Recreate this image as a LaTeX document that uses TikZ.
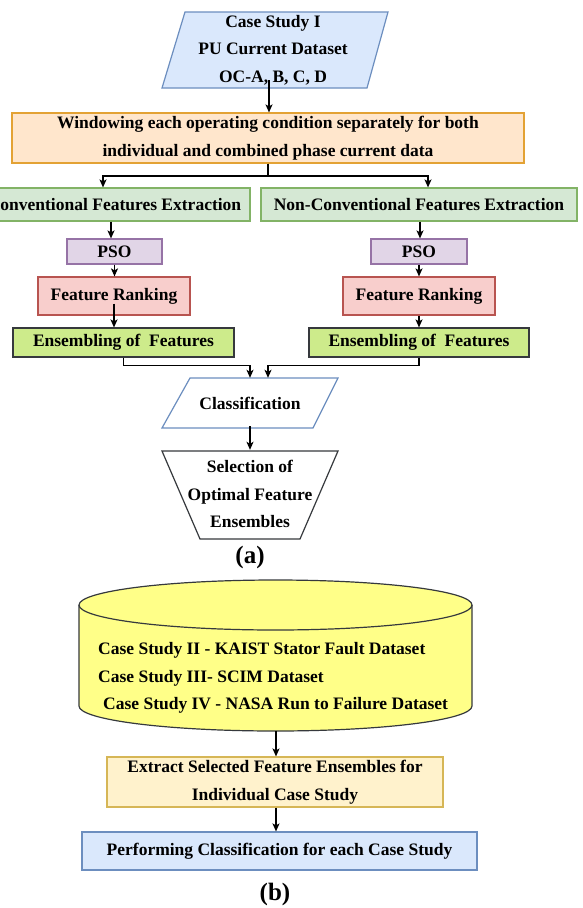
\documentclass[tikz,border=0pt]{standalone}
\usepackage{fontspec}
\setmainfont{Liberation Serif}
\usetikzlibrary{arrows.meta}
\definecolor{blueF}{HTML}{DAE8FC}
\definecolor{blueD}{HTML}{6C8EBF}
\definecolor{orangeF}{HTML}{FFE6CC}
\definecolor{orangeD}{HTML}{E3A234}
\definecolor{greenF}{HTML}{D5E8D4}
\definecolor{greenD}{HTML}{82B366}
\definecolor{purpF}{HTML}{E1D5E7}
\definecolor{purpD}{HTML}{9673A6}
\definecolor{redF}{HTML}{F8CECC}
\definecolor{redD}{HTML}{B85450}
\definecolor{ensF}{HTML}{CDEB8B}
\definecolor{darkD}{HTML}{36393D}
\definecolor{cylF}{HTML}{FFFF88}
\definecolor{yelF}{HTML}{FFF2CC}
\definecolor{yelD}{HTML}{D6B656}
\tikzset{
  lbl/.style={font=\fontsize{17.5}{27.5}\selectfont\bfseries, align=center, inner sep=0pt, text=black},
  rbox/.style={lbl, draw, line width=1.2pt, rectangle},
  arr/.style={draw=black, line width=1.2pt, -{Stealth[length=8pt,width=7pt,inset=2pt]}},
  ln/.style={draw=black, line width=1.2pt},
  tag/.style={font=\fontsize{25}{30}\selectfont\bfseries, inner sep=0pt}
}
\begin{document}
\begin{tikzpicture}[x=1pt,y=-1pt]
\useasboundingbox[fill=white] (0,0) rectangle (583,908);

% ---- (a) ----
\filldraw[fill=blueF, draw=blueD, line width=1.2pt] (185,12) -- (388,12) -- (367,88) -- (162,88) -- cycle;
\node[lbl, minimum width=226pt, minimum height=76pt] (p1) at (273,50) {Case Study I\\PU Current Dataset\\OC-A, B, C, D};
\coordinate (p1out) at (269,80);

\node[rbox, fill=orangeF, draw=orangeD, minimum width=512pt, minimum height=50pt] (win) at (268,138)
  {Windowing each operating condition separately for both\\individual and combined phase current data};

\node[rbox, fill=greenF, draw=greenD, minimum width=271pt, minimum height=33pt] (conv) at (114.5,204.5) {Conventional Features Extraction};
\node[rbox, fill=greenF, draw=greenD, minimum width=316pt, minimum height=33pt] (nconv) at (419,204.5) {Non-Conventional Features Extraction};

\node[rbox, fill=purpF, draw=purpD, minimum width=95pt, minimum height=25pt] (psoL) at (114.5,251.5) {PSO};
\node[rbox, fill=purpF, draw=purpD, minimum width=96pt, minimum height=25pt] (psoR) at (419,251.5) {PSO};

\node[rbox, fill=redF, draw=redD, minimum width=152pt, minimum height=38pt] (frL) at (114,296) {Feature Ranking};
\node[rbox, fill=redF, draw=redD, minimum width=152pt, minimum height=38pt] (frR) at (419,296) {Feature Ranking};

\node[rbox, fill=ensF, draw=darkD, minimum width=221pt, minimum height=29pt] (ensL) at (123.5,342.5) {Ensembling of~ Features};
\node[rbox, fill=ensF, draw=darkD, minimum width=220pt, minimum height=29pt] (ensR) at (419,342.5) {Ensembling of~ Features};

\draw[blueD, line width=1.2pt] (190,378) -- (338,378) -- (313,428) -- (162,428) -- cycle;
\node[lbl, minimum width=176pt, minimum height=50pt] (cls) at (250,403) {Classification};

\draw[darkD, line width=1.2pt] (162,451) -- (338,451) -- (300,539) -- (200,539) -- cycle;
\node[lbl, minimum width=176pt, minimum height=88pt] (sel) at (250,494) {Selection of\\Optimal Feature\\Ensembles};

\node[tag] (taga) at (250,557) {(a)};

% connectors (a)
\draw[arr] (p1out) -- (p1out |- win.north);
\coordinate (brL) at (103,176);
\coordinate (brR) at (428,176);
\draw[arr] (win.south) |- (brL) -- (brL |- conv.north);
\draw[arr] (win.south) |- (brR) -- (brR |- nconv.north);
\draw[arr] ([xshift=-3.5pt]conv.south -| psoL.north) -- ([xshift=-3.5pt]psoL.north);
\draw[arr] ([xshift=1pt]nconv.south -| psoR.north) -- ([xshift=1pt]psoR.north);
\draw[arr] (psoL.south) -- (psoL.south |- frL.north);
\draw[arr] (psoR.south) -- (psoR.south |- frR.north);
\draw[arr] ([yshift=12pt]frL.south) -- (frL.south |- ensL.north);
\draw[arr] (frR.south) -- (frR.south |- ensR.north);
\draw[arr] (ensL.south) -- ++(0,8) -| (cls.north);
\draw[arr] (ensR.south) -- ++(0,8) -| ([xshift=18pt]cls.north);
\draw[arr] ([yshift=2pt]cls.south) -- (sel.north);

% ---- (b) ----
\node[lbl, minimum width=393pt, minimum height=151pt] (cyl) at (275.5,655.5) {};
\filldraw[fill=cylF, draw=darkD, line width=1.2pt] (79,605) -- (79,706)
  arc[start angle=180, end angle=360, x radius=196.5pt, y radius=25pt] -- (472,605)
  arc[start angle=0, end angle=180, x radius=196.5pt, y radius=25pt] -- cycle;
\draw[darkD, line width=1.2pt] (79,605) arc[start angle=180, end angle=360, x radius=196.5pt, y radius=25pt];
\node[lbl, anchor=base west] (c2) at (98,654) {Case Study II - KAIST Stator Fault Dataset};
\node[lbl, anchor=base west] (c3) at (98,682) {Case Study III- SCIM Dataset};
\node[lbl, anchor=base west] (c4) at (103,709) {Case Study IV - NASA Run to Failure Dataset};

\node[rbox, fill=yelF, draw=yelD, minimum width=336pt, minimum height=50pt] (ext) at (275,782)
  {Extract Selected Feature Ensembles for\\Individual Case Study};
\node[rbox, fill=blueF, draw=blueD, minimum width=395pt, minimum height=38pt] (perf) at (279.5,851)
  {Performing Classification for each Case Study};
\node[tag] (tagb) at (275,894) {(b)};

\draw[arr] ([xshift=0.5pt]cyl.south) -- ([xshift=0.5pt]cyl.south |- ext.north);
\draw[arr] ([xshift=1pt]ext.south) -- ([xshift=1pt]ext.south |- perf.north);
\end{tikzpicture}
\end{document}
